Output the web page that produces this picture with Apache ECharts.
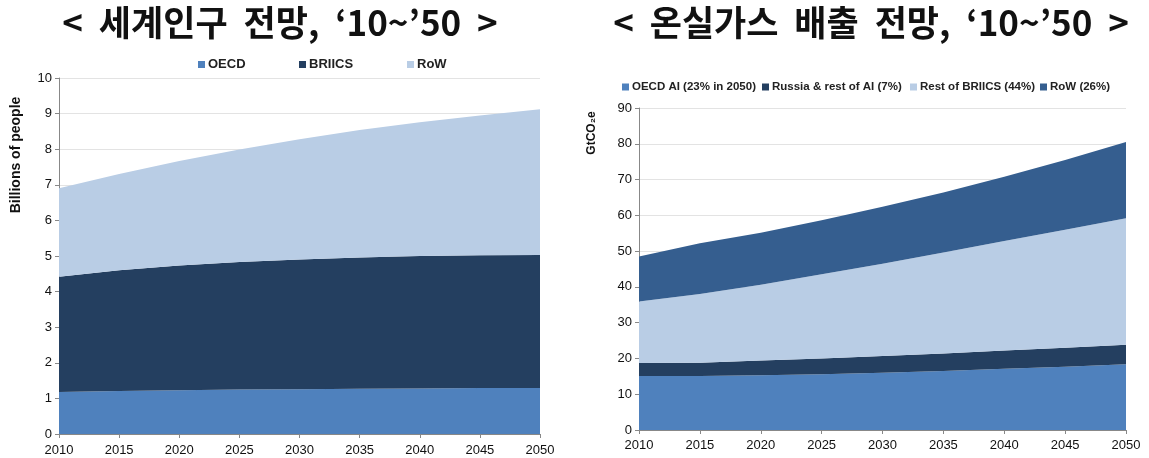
<!DOCTYPE html>
<html><head><meta charset="utf-8">
<script src="https://cdn.jsdelivr.net/npm/echarts@6/dist/echarts.min.js"></script>
<style>html,body{margin:0;padding:0;background:#fff;}#c{width:1149px;height:458px;}</style>
</head><body><div id="c"></div>
<script>
const years = ['2010','2015','2020','2025','2030','2035','2040','2045','2050'];
// World population (billions)
const popOECD   = [1.18, 1.21, 1.23, 1.25, 1.26, 1.27, 1.28, 1.29, 1.29];
const popBRIICS = [3.24, 3.39, 3.50, 3.58, 3.64, 3.69, 3.72, 3.73, 3.74];
const popRoW    = [2.48, 2.70, 2.94, 3.16, 3.38, 3.58, 3.76, 3.93, 4.09];
// GHG emissions (GtCO2e)
const ghgOECD   = [15.1, 15.1, 15.3, 15.6, 16.0, 16.5, 17.1, 17.7, 18.4];
const ghgRussia = [3.6, 3.7, 4.1, 4.4, 4.7, 4.9, 5.1, 5.3, 5.4];
const ghgBRIICS = [17.2, 19.2, 21.2, 23.5, 25.8, 28.2, 30.6, 33.0, 35.4];
const ghgRoW    = [12.6, 14.2, 14.5, 15.1, 15.9, 16.8, 18.0, 19.5, 21.3];

const C_OECD = '#4f81bd', C_DARK = '#243f60', C_LIGHT = '#b9cde5', C_MID = '#355e8f';
const FONT = '"Liberation Sans", Arial, sans-serif';
const TFONT = '"Noto Sans CJK KR", "Noto Sans", sans-serif';

function area(name, data, color, xi, stack){
  return {name, type:'line', data, xAxisIndex:xi, yAxisIndex:xi, stack, symbol:'none',
    lineStyle:{width:0}, areaStyle:{color, opacity:1}, itemStyle:{color}, smooth:false, z:2};
}
function leg(name, left, top, fs){
  return {data:[name], left, top, icon:'rect', itemWidth:7, itemHeight:7, itemGap:0,
    textStyle:{fontFamily:FONT, fontSize:fs, fontWeight:'bold', color:'#222', padding:[0,0,0,-2]}, padding:0};
}
const axisLabel = {fontFamily:FONT, fontSize:13, color:'#111'};
const option = {
  animation:false,
  title:[
    {text:'<  세계인구  전망,  ‘10~’50  >', left:275, top:0, textAlign:'center',
     textStyle:{fontFamily:TFONT, fontSize:35, fontWeight:'bold', color:'#111'}},
    {text:'<  온실가스  배출  전망,  ‘10~’50  >', left:866, top:0, textAlign:'center',
     textStyle:{fontFamily:TFONT, fontSize:35, fontWeight:'bold', color:'#111'}}
  ],
  legend:[
    leg('OECD',198,58,13), leg('BRIICS',299,58,13), leg('RoW',407,58,13),
    leg('OECD AI (23% in 2050)',622,81,11.5), leg('Russia & rest of AI (7%)',762,81,11.5),
    leg('Rest of BRIICS (44%)',910,81,11.5), leg('RoW (26%)',1040,81,11.5)
  ],
  graphic:[
    {type:'text', x:16, y:155, rotation:Math.PI/2,
     style:{text:'Billions of people', fontFamily:FONT, fontSize:14, fontWeight:'bold', fill:'#111', align:'center', verticalAlign:'middle'}},
    {type:'text', x:592, y:133, rotation:Math.PI/2,
     style:{text:'GtCO₂e', fontFamily:FONT, fontSize:12, fontWeight:'bold', fill:'#111', align:'center', verticalAlign:'middle'}}
  ],
  grid:[
    {left:59, top:78, width:481, height:356},
    {left:639, top:108, width:487, height:322}
  ],
  xAxis:[0,1].map(i=>({gridIndex:i, type:'category', data:years, boundaryGap:false,
    axisLine:{lineStyle:{color:'#888'}}, axisTick:{show:true, length:4, lineStyle:{color:'#888'}},
    axisLabel:Object.assign({margin: i===0 ? 10 : 9}, axisLabel)})),
  yAxis:[
    {gridIndex:0, type:'value', min:0, max:10, interval:1,
     axisLine:{show:true, lineStyle:{color:'#888'}}, axisTick:{show:true, length:4, lineStyle:{color:'#888'}},
     splitLine:{lineStyle:{color:'#e3e3e3'}}, axisLabel:Object.assign({margin:7}, axisLabel)},
    {gridIndex:1, type:'value', min:0, max:90, interval:10,
     axisLine:{show:true, lineStyle:{color:'#888'}}, axisTick:{show:true, length:4, lineStyle:{color:'#888'}},
     splitLine:{lineStyle:{color:'#e3e3e3'}}, axisLabel:Object.assign({margin:7}, axisLabel)}
  ],
  series:[
    area('OECD', popOECD, C_OECD, 0, 'pop'),
    area('BRIICS', popBRIICS, C_DARK, 0, 'pop'),
    area('RoW', popRoW, C_LIGHT, 0, 'pop'),
    area('OECD AI (23% in 2050)', ghgOECD, C_OECD, 1, 'ghg'),
    area('Russia & rest of AI (7%)', ghgRussia, C_DARK, 1, 'ghg'),
    area('Rest of BRIICS (44%)', ghgBRIICS, C_LIGHT, 1, 'ghg'),
    area('RoW (26%)', ghgRoW, C_MID, 1, 'ghg')
  ]
};
const chart = echarts.init(document.getElementById('c'), null, {renderer:'canvas'});
chart.setOption(option);
</script></body></html>
